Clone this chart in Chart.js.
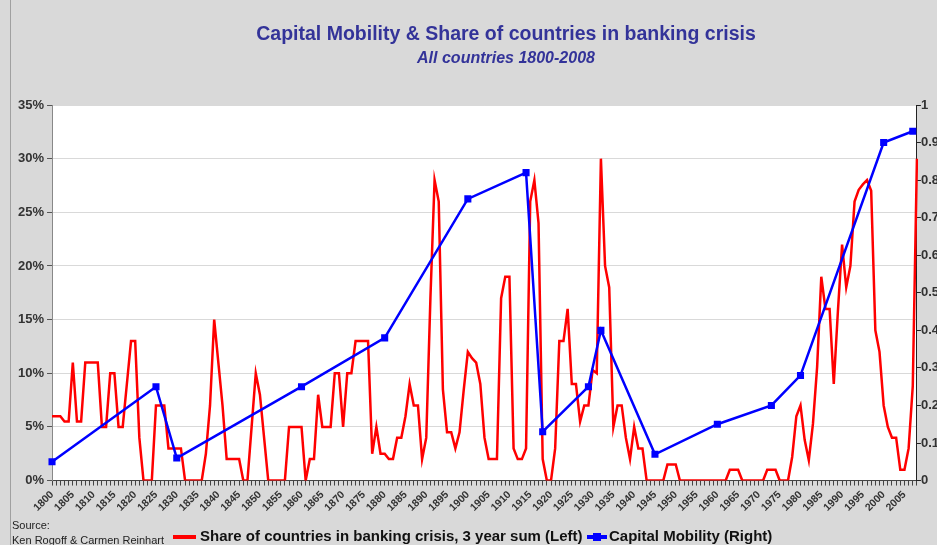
<!DOCTYPE html>
<html>
<head>
<meta charset="utf-8">
<title>Capital Mobility &amp; Share of countries in banking crisis</title>
<script src="https://cdn.jsdelivr.net/npm/chart.js@4.4.1/dist/chart.umd.min.js"></script>
<style>
  html, body { margin: 0; padding: 0; }
  body {
    width: 937px; height: 545px; overflow: hidden; position: relative;
    background: #d9d9d9; font-family: "Liberation Sans", Arial, sans-serif;
  }
  #edge { position: absolute; left: 10px; top: 0; width: 1px; height: 545px; background: #a0a0a0; }
  #chart { position: absolute; left: 0; top: 0; }
  .head { position: absolute; left: 0; width: 1012px; text-align: center; color: #333399; font-weight: bold; white-space: nowrap; }
  #title { top: 21px; font-size: 19.5px; line-height: 24px; }
  #subtitle { top: 48px; font-size: 16px; line-height: 20px; font-style: italic; }
  #source { position: absolute; left: 12px; top: 518px; font-size: 11px; line-height: 15px; color: #222; }
  .legtext { position: absolute; top: 527px; font-size: 15px; line-height: 18px; font-weight: bold; color: #111; white-space: nowrap; }
  .key { position: absolute; height: 4px; }
</style>
</head>
<body>
<div id="edge"></div>
<canvas id="chart" width="960" height="545"></canvas>
<div id="title" class="head">Capital Mobility &amp; Share of countries in banking crisis</div>
<div id="subtitle" class="head">All countries 1800-2008</div>
<div id="source">Source:<br>Ken Rogoff &amp; Carmen Reinhart</div>

<div class="key" style="left:173px; top:535px; width:23px; background:#ff0000;"></div>
<div class="legtext" style="left:200px;">Share of countries in banking crisis, 3 year sum (Left)</div>
<div class="key" style="left:587px; top:535px; width:20px; background:#0000ff;"></div>
<div class="key" style="left:593px; top:533px; width:8px; height:8px; background:#0000ff;"></div>
<div class="legtext" style="left:609px;">Capital Mobility (Right)</div>

<script>
// categories: one per year
const years = [];
for (let y = 1800; y <= 2008; y++) years.push(String(y));

// share of countries in banking crisis, 3 year sum (%), 1800..2008
const crisisShare = [
  6, 6, 6, 5.5, 5.5, 11, 5.5, 5.5, 11, 11,          // 1800
  11, 11, 5, 5, 10, 10, 5, 5, 9, 13,                // 1810
  13, 4, 0, 0, 0, 7, 7, 7, 3, 3,                    // 1820
  3, 3, 0, 0, 0, 0, 0, 2.5, 7, 15,                  // 1830
  11, 7, 2, 2, 2, 2, 0, 0, 5, 10,                   // 1840
  8, 4, 0, 0, 0, 0, 0, 5, 5, 5,                     // 1850
  5, 0, 2, 2, 8, 5, 5, 5, 10, 10,                   // 1860
  5, 10, 10, 13, 13, 13, 13, 2.5, 5, 2.5,           // 1870
  2.5, 2, 2, 4, 4, 6, 9, 7, 7, 2,                   // 1880
  4, 17, 28, 26, 8.5, 4.5, 4.5, 3, 4.5, 8.4,        // 1890
  12, 11.4, 11, 9, 4, 2, 2, 2, 17, 19,              // 1900
  19, 3, 2, 2, 3, 26, 28, 24, 2, 0,                 // 1910
  0, 3, 13, 13, 16, 9, 9, 5.5, 7, 7,                // 1920
  10.3, 10, 30, 20, 18, 5, 7, 7, 4, 2,              // 1930
  5, 3, 3, 0, 0, 0, 0, 0, 1.5, 1.5,                 // 1940
  1.5, 0, 0, 0, 0, 0, 0, 0, 0, 0,                   // 1950
  0, 0, 0, 1, 1, 1, 0, 0, 0, 0,                     // 1960
  0, 0, 1, 1, 1, 0, 0, 0, 2.2, 6,                   // 1970
  7, 3.8, 1.9, 5.3, 10.6, 19, 16, 16, 9, 15.8,      // 1980
  22, 18, 20, 26, 27.1, 27.6, 28, 27, 14, 12,       // 1990
  7, 5, 4, 4, 1, 1, 3, 8.8, 30                      // 2000
];

// capital mobility index (right axis)
const mobilityYears  = [1800, 1825, 1830, 1860, 1880, 1900, 1914, 1918, 1929, 1932, 1945, 1960, 1973, 1980, 2000, 2007];
const mobilityValues = [0.05, 0.25, 0.06, 0.25, 0.38, 0.75, 0.82, 0.13, 0.25, 0.40, 0.07, 0.15, 0.20, 0.28, 0.90, 0.93];

const leftTicks = [0, 5, 10, 15, 20, 25, 30, 35];

// white plot area on the grey background
const plotBackground = {
  id: 'plotBackground',
  beforeDraw(chart) {
    const { ctx, chartArea: a } = chart;
    ctx.save();
    ctx.fillStyle = '#ffffff';
    ctx.fillRect(a.left, a.top, a.right - a.left, a.bottom - a.top);
    ctx.restore();
  }
};

const axisFont = { family: '"Liberation Sans", Arial, sans-serif', weight: 'bold', size: 13 };

new Chart(document.getElementById('chart'), {
  type: 'line',
  data: {
    labels: years,
    datasets: [
      {
        label: 'Capital Mobility (Right)',
        data: mobilityYears.map((y, i) => ({ x: String(y), y: mobilityValues[i] })),
        yAxisID: 'y1',
        borderColor: '#0000ff',
        backgroundColor: '#0000ff',
        borderWidth: 2.5,
        pointStyle: 'rect',
        pointRadius: 5,
        pointBorderWidth: 0,
        tension: 0,
        order: 0
      },
      {
        label: 'Share of countries in banking crisis, 3 year sum (Left)',
        data: crisisShare,
        yAxisID: 'y',
        borderColor: '#ff0000',
        borderWidth: 2.5,
        pointRadius: 0,
        tension: 0,
        order: 1
      }
    ]
  },
  options: {
    responsive: false,
    animation: false,
    devicePixelRatio: 1,
    layout: { padding: { top: 105, left: 15, right: 21, bottom: 28 } },
    plugins: {
      legend: { display: false },
      tooltip: { enabled: false }
    },
    scales: {
      x: {
        type: 'category',
        offset: false,
        grid: { drawOnChartArea: false, drawTicks: true, tickLength: 5, tickColor: '#444' },
        border: { color: '#444' },
        ticks: {
          autoSkip: false,
          maxRotation: 45,
          minRotation: 45,
          padding: 3,
          color: '#333',
          font: { family: axisFont.family, weight: 'bold', size: 10.5 },
          callback: function (value, index) {
            return index % 5 === 0 ? this.getLabelForValue(value) : '';
          }
        }
      },
      y: {
        position: 'left',
        min: 0,
        max: 35,
        afterBuildTicks: axis => { axis.ticks = leftTicks.map(v => ({ value: v })); },
        grid: { color: '#d9d9d9', tickColor: '#555', tickLength: 5 },
        border: { color: '#888' },
        ticks: { color: '#333', font: axisFont, padding: 3, callback: v => v + '%' }
      },
      y1: {
        position: 'right',
        min: 0,
        max: 1,
        grid: { drawOnChartArea: false, tickColor: '#222', tickLength: 4 },
        border: { color: '#222' },
        ticks: { stepSize: 0.1, color: '#333', font: axisFont, padding: 0, callback: v => String(Math.round(v * 10) / 10) }
      }
    }
  },
  plugins: [plotBackground]
});
</script>
</body>
</html>
